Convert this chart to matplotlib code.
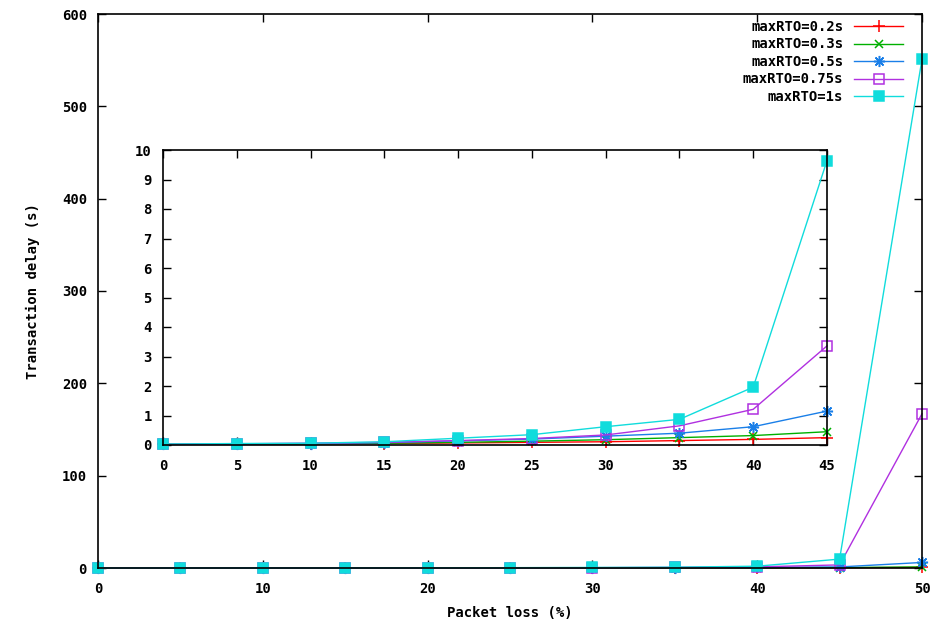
import matplotlib
matplotlib.use("Agg")
import matplotlib.pyplot as plt

# packet loss (%)
loss = [0, 5, 10, 15, 20, 25, 30, 35, 40, 45, 50]

# transaction delay (s) per maxRTO setting
rto_02 = [0.02, 0.03, 0.04, 0.05, 0.07, 0.09, 0.11, 0.15, 0.19, 0.25, 0.6]
rto_03 = [0.02, 0.03, 0.04, 0.06, 0.09, 0.13, 0.18, 0.25, 0.32, 0.45, 1.2]
rto_05 = [0.02, 0.04, 0.05, 0.08, 0.14, 0.20, 0.30, 0.40, 0.62, 1.15, 6.0]
rto_075 = [0.02, 0.04, 0.06, 0.09, 0.15, 0.22, 0.34, 0.65, 1.21, 3.36, 167]
rto_1 = [0.03, 0.05, 0.06, 0.11, 0.23, 0.35, 0.62, 0.87, 1.96, 9.64, 551]

labels = ['maxRTO=0.2s', 'maxRTO=0.3s', 'maxRTO=0.5s', 'maxRTO=0.75s', 'maxRTO=1s']
series = [rto_02, rto_03, rto_05, rto_075, rto_1]

colors = ['#ff0000', '#00b000', '#1a7fe8', '#b030e0', '#10dcdc']
markers = ['+', 'x', (8, 2, 0), 's', 's']
faces = ['none', 'none', 'none', 'none', '#10dcdc']
msizes = [8, 6, 8, 6.5, 7]

plt.rcParams['font.family'] = 'DejaVu Sans Mono'
plt.rcParams['font.weight'] = 'bold'
plt.rcParams['font.size'] = 10

fig = plt.figure(figsize=(9.49, 6.26), dpi=100)

ax = fig.add_axes([98 / 949, 1 - 568 / 626, (922 - 98) / 949, (568 - 14) / 626])
ins = fig.add_axes([163 / 949, 1 - 445 / 626, (827 - 163) / 949, (445 - 150) / 626])


def draw(a, n, with_labels):
    for y, lab, c, m, fc, ms in zip(series, labels, colors, markers, faces, msizes):
        a.plot(loss[:n], y[:n], color=c, lw=1, marker=m, markersize=ms,
               markerfacecolor=fc, markeredgecolor=c, markeredgewidth=1.1,
               label=lab if with_labels else None, clip_on=False)


draw(ax, len(loss), True)
draw(ins, 10, False)

ax.set_xlim(0, 50)
ax.set_ylim(0, 600)
ax.set_xticks(range(0, 51, 10))
ax.set_yticks(range(0, 601, 100))
ax.set_xlabel('Packet loss (%)', fontweight='bold', labelpad=7)
ax.set_ylabel('Transaction delay (s)', fontweight='bold', labelpad=16)

ins.set_xlim(0, 45)
ins.set_ylim(0, 10)
ins.set_xticks(range(0, 46, 5))
ins.set_yticks(range(0, 11, 1))

for a in (ax, ins):
    a.tick_params(direction='in', length=6, width=1, top=True, right=True, pad=8)
    a.tick_params(axis='x', pad=10)
    for s in a.spines.values():
        s.set_linewidth(1.2)
    for t in a.get_xticklabels() + a.get_yticklabels():
        t.set_fontweight('bold')

leg = ax.legend(loc='upper right', bbox_to_anchor=(903 / 949, 1 - 20 / 626),
                bbox_transform=fig.transFigure, frameon=False, markerfirst=False,
                handlelength=3.5, handletextpad=0.8, labelspacing=0.25,
                borderpad=0, borderaxespad=0)
for t in leg.get_texts():
    t.set_fontweight('bold')

fig.savefig('out.png', dpi=100)
